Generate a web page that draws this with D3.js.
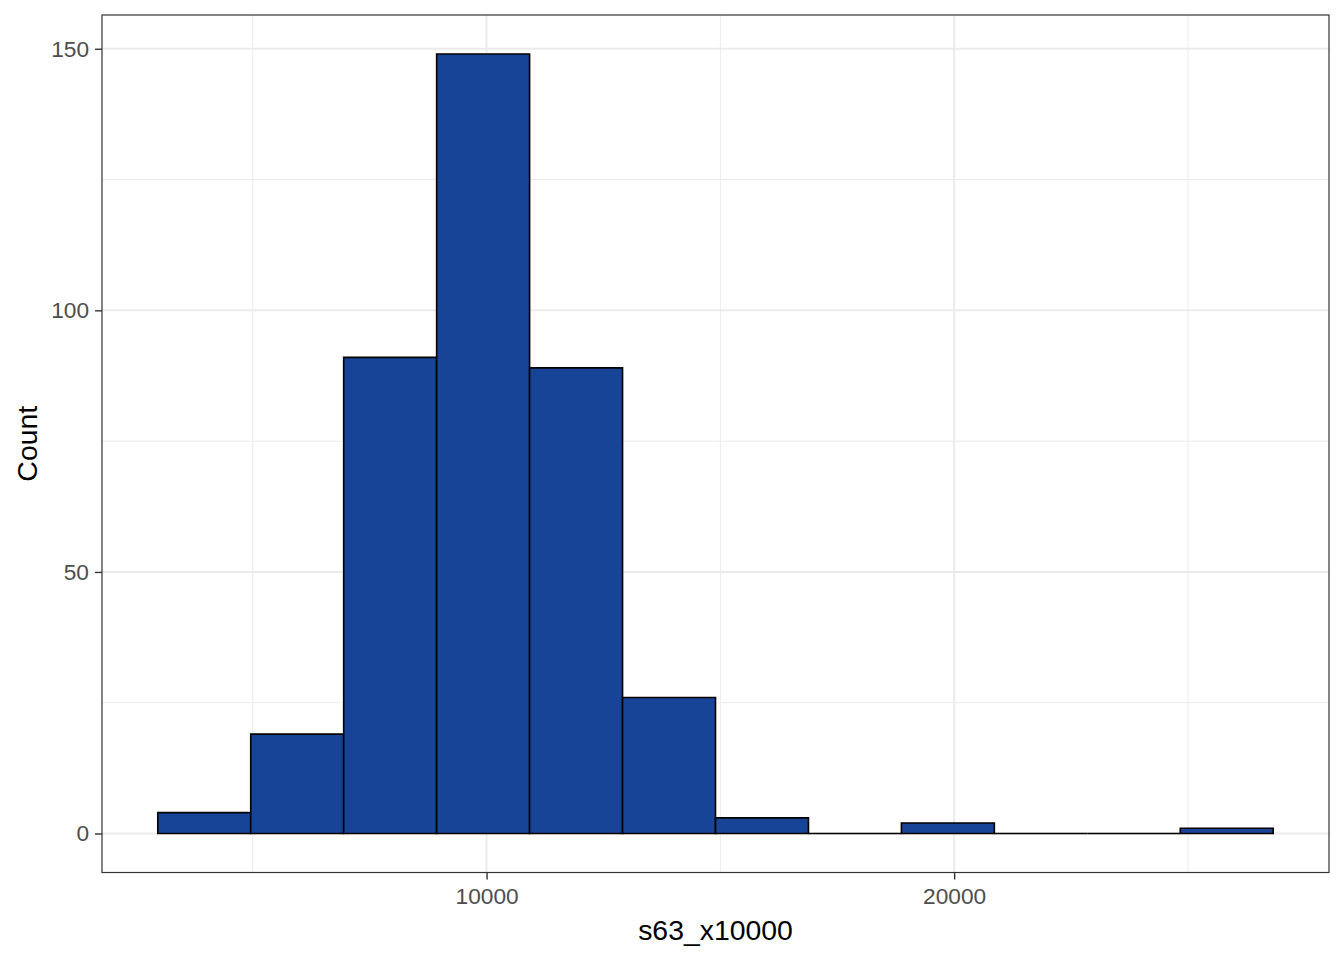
<!DOCTYPE html>
<html>
<head>
<meta charset="utf-8">
<script src="https://cdn.jsdelivr.net/npm/d3@7"></script>
<style>
  html, body { margin: 0; padding: 0; background: #fff; }
  svg { display: block; }
  text { font-family: "Liberation Sans", Arial, sans-serif; }
</style>
</head>
<body>
<svg id="chart" width="1344" height="960"></svg>
<script>
// Histogram bins (lower and upper edges) and counts
const binLower = [2968, 4956, 6944, 8932, 10920, 12908, 14896, 16884, 18872, 20860, 22848, 24836];
const binUpper = [4956, 6944, 8932, 10920, 12908, 14896, 16884, 18872, 20860, 22848, 24836, 26824];
const counts   = [4, 19, 91, 149, 89, 26, 3, 0, 2, 0, 0, 1];

const xMajorTicks = [10000, 20000];
const xMinorTicks = [5000, 15000, 25000];
const yMajorTicks = [0, 50, 100, 150];
const yMinorTicks = [25, 75, 125];
const xTitle = "s63_x10000";
const yTitle = "Count";

const svg = d3.select("#chart");
const panel = { left: 102, right: 1329, top: 15, bottom: 872.5 };

const xMin = d3.min(binLower), xMax = d3.max(binUpper);
const xPad = (xMax - xMin) * 0.05;
const x = d3.scaleLinear().domain([xMin - xPad, xMax + xPad]).range([panel.left, panel.right]);

const yMaxC = d3.max(counts);
const yPad = yMaxC * 0.05;
const y = d3.scaleLinear().domain([-yPad, yMaxC + yPad]).range([panel.bottom, panel.top]);

// panel background
svg.append("rect")
  .attr("x", panel.left).attr("y", panel.top)
  .attr("width", panel.right - panel.left).attr("height", panel.bottom - panel.top)
  .attr("fill", "#fff");

// grid
const grid = svg.append("g");
grid.selectAll(".xminor").data(xMinorTicks).enter().append("line")
  .attr("x1", d => x(d)).attr("x2", d => x(d))
  .attr("y1", panel.top).attr("y2", panel.bottom)
  .attr("stroke", "#EBEBEB").attr("stroke-width", 1);
grid.selectAll(".yminor").data(yMinorTicks).enter().append("line")
  .attr("y1", d => y(d)).attr("y2", d => y(d))
  .attr("x1", panel.left).attr("x2", panel.right)
  .attr("stroke", "#EBEBEB").attr("stroke-width", 1);
grid.selectAll(".xmajor").data(xMajorTicks).enter().append("line")
  .attr("x1", d => x(d)).attr("x2", d => x(d))
  .attr("y1", panel.top).attr("y2", panel.bottom)
  .attr("stroke", "#EBEBEB").attr("stroke-width", 2);
grid.selectAll(".ymajor").data(yMajorTicks).enter().append("line")
  .attr("y1", d => y(d)).attr("y2", d => y(d))
  .attr("x1", panel.left).attr("x2", panel.right)
  .attr("stroke", "#EBEBEB").attr("stroke-width", 2);

// bars
const bins = counts.map((c, i) => ({ x0: binLower[i], x1: binUpper[i], c }));
svg.append("g").selectAll("path").data(bins).enter().append("path")
  .attr("d", d => {
    const a = x(d.x0), b = x(d.x1), t = y(d.c), z = y(0);
    return `M${a},${z}L${a},${t}L${b},${t}L${b},${z}Z`;
  })
  .attr("fill", "#174497")
  .attr("stroke", "#000")
  .attr("stroke-width", 1.6)
  .attr("stroke-linejoin", "miter");

// panel border
svg.append("rect")
  .attr("x", panel.left).attr("y", panel.top)
  .attr("width", panel.right - panel.left).attr("height", panel.bottom - panel.top)
  .attr("fill", "none").attr("stroke", "#333333").attr("stroke-width", 1.2);

// axes
const xAxis = d3.axisBottom(x).tickValues(xMajorTicks).tickFormat(d3.format("d")).tickSizeInner(7).tickSizeOuter(0).tickPadding(8);
const gx = svg.append("g").attr("transform", `translate(0,${panel.bottom})`).call(xAxis);
gx.select(".domain").remove();
gx.selectAll("line").attr("stroke", "#333333").attr("stroke-width", 1.4);
gx.selectAll("text").attr("fill", "#4D4D4D").attr("font-size", "22.7px")
  .attr("font-family", "'Liberation Sans', Arial, sans-serif");

const yAxis = d3.axisLeft(y).tickValues(yMajorTicks).tickFormat(d3.format("d")).tickSizeInner(7).tickSizeOuter(0).tickPadding(6);
const gy = svg.append("g").attr("transform", `translate(${panel.left},0)`).call(yAxis);
gy.select(".domain").remove();
gy.selectAll("line").attr("stroke", "#333333").attr("stroke-width", 1.4);
gy.selectAll("text").attr("fill", "#4D4D4D").attr("font-size", "22.7px")
  .attr("font-family", "'Liberation Sans', Arial, sans-serif");

// titles
svg.append("text")
  .attr("x", (panel.left + panel.right) / 2).attr("y", 940)
  .attr("text-anchor", "middle").attr("font-size", "28.4px").attr("fill", "#000")
  .text(xTitle);
svg.append("text")
  .attr("transform", `translate(37,${(panel.top + panel.bottom) / 2}) rotate(-90)`)
  .attr("text-anchor", "middle").attr("font-size", "28.4px").attr("fill", "#000")
  .text(yTitle);
</script>
</body>
</html>
